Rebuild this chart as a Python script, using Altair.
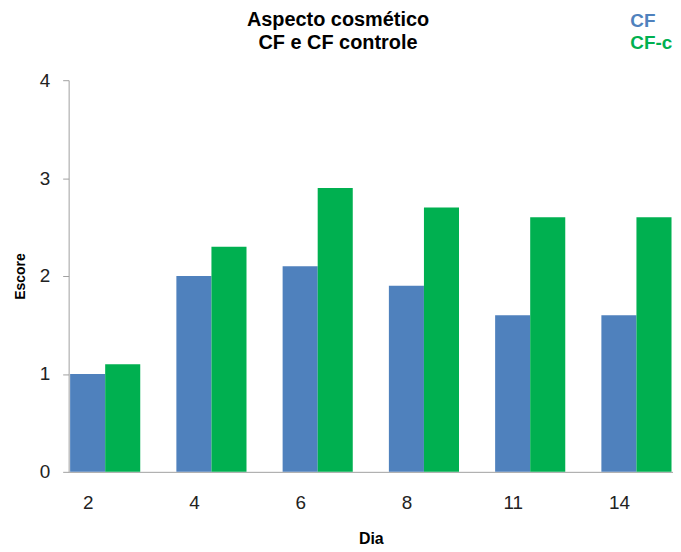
import altair as alt
import pandas as pd

dias = ["2", "4", "6", "8", "11", "14"]
series = ["CF", "CF-c"]
cf = [1.0, 2.0, 2.1, 1.9, 1.6, 1.6]
cf_c = [1.1, 2.3, 2.9, 2.7, 2.6, 2.6]
colors = ["#4F81BD", "#00B050"]
y_ticks = [0, 1, 2, 3, 4]
title_lines = ["Aspecto cosmético", "CF e CF controle"]

rows = []
for d, a, b in zip(dias, cf, cf_c):
    rows.append({"Dia": d, "Serie": series[0], "Escore": a})
    rows.append({"Dia": d, "Serie": series[1], "Escore": b})
df = pd.DataFrame(rows)

FONT = "Liberation Sans"
color_scale = alt.Scale(domain=series, range=colors)

bars = alt.Chart(df).mark_bar().encode(
    x=alt.X("Dia:N", sort=dias,
            scale=alt.Scale(paddingInner=0.34, paddingOuter=0.014),
            axis=alt.Axis(title="Dia", labelAngle=0, ticks=False,
                          domainColor="#A0A0A0", labelFontSize=19,
                          labelColor="#222222", labelFont=FONT,
                          labelPadding=22, labelOffset=-17,
                          titleFont=FONT, titleFontSize=16,
                          titleFontWeight="bold", titleColor="#000000",
                          titlePadding=18)),
    xOffset=alt.XOffset("Serie:N", sort=series),
    y=alt.Y("Escore:Q", scale=alt.Scale(domain=[0, 4], nice=False),
            axis=alt.Axis(title="Escore", values=y_ticks, grid=False,
                          domainColor="#A0A0A0", tickColor="#A0A0A0",
                          tickSize=6, labelFontSize=19, labelColor="#222222",
                          labelFont=FONT, labelPadding=13,
                          titleFont=FONT, titleFontSize=14,
                          titleFontWeight="bold", titleColor="#000000",
                          titlePadding=12)),
    color=alt.Color("Serie:N", scale=color_scale, legend=None),
)

layers = [bars]

# two-line chart title
for i, line in enumerate(title_lines):
    layers.append(
        alt.Chart(pd.DataFrame({"t": [line]})).mark_text(
            align="center", baseline="middle", font=FONT, fontSize=20,
            fontWeight="bold", color="#000000"
        ).encode(text="t:N", x=alt.value(271), y=alt.value(-61 + 24 * i))
    )

# text legend
for i, s in enumerate(series):
    layers.append(
        alt.Chart(pd.DataFrame({"Serie": [s]})).mark_text(
            align="left", baseline="middle", font=FONT, fontSize=19,
            fontWeight="bold"
        ).encode(
            text="Serie:N",
            color=alt.Color("Serie:N", scale=color_scale, legend=None),
            x=alt.value(565),
            y=alt.value(-60 + 23 * i),
        )
    )

chart = alt.layer(*layers).properties(
    width=608,
    height=394,
    autosize=alt.AutoSizeParams(type="none"),
    padding={"left": 61, "top": 71, "right": 0, "bottom": 77},
).configure_view(stroke=None)

chart.save("out.html", embed_options={"renderer": "svg", "actions": False})
